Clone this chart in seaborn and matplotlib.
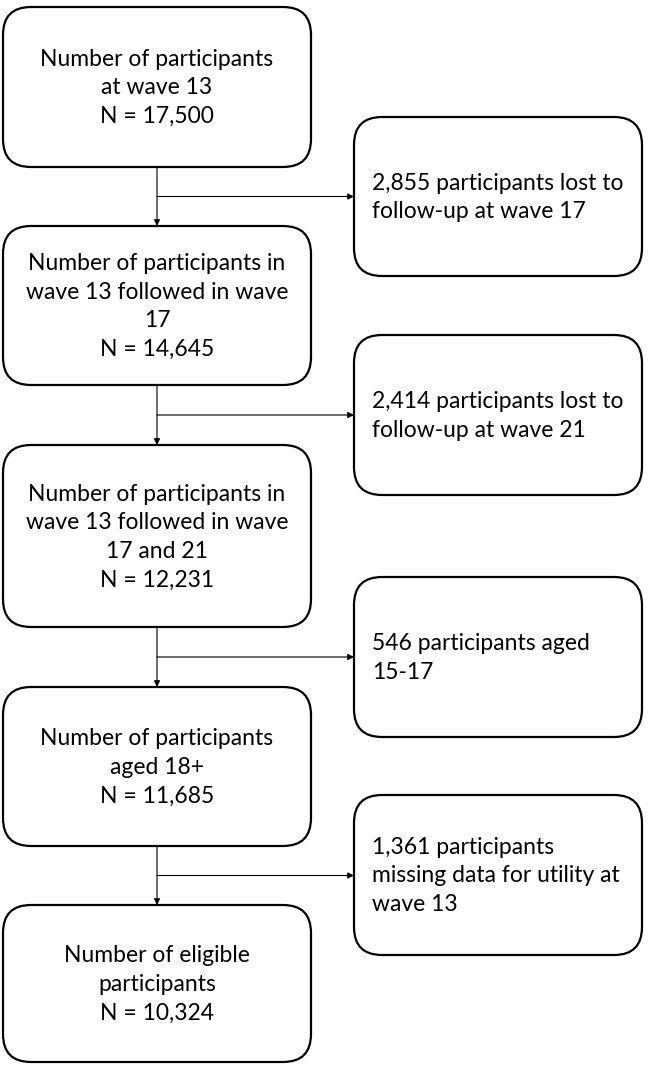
import matplotlib
matplotlib.use("Agg")
import matplotlib.pyplot as plt
from matplotlib.patches import FancyBboxPatch
import seaborn as sns

# flowchart content
main_steps = [
    "Number of participants\nat wave 13",
    "Number of participants in\nwave 13 followed in wave\n17",
    "Number of participants in\nwave 13 followed in wave\n17 and 21",
    "Number of participants\naged 18+",
    "Number of eligible\nparticipants",
]
main_counts = ["17,500", "14,645", "12,231", "11,685", "10,324"]
excluded = [
    "2,855 participants lost to\nfollow-up at wave 17",
    "2,414 participants lost to\nfollow-up at wave 21",
    "546 participants aged\n15-17",
    "1,361 participants\nmissing data for utility at\nwave 13",
]

# layout in pixels (top, bottom)
left_rows = [(7, 167), (226, 385), (445, 627), (687, 846), (905, 1062)]
right_rows = [(117, 276), (335, 495), (577, 737), (795, 955)]
left_x = (3, 311)
right_x = (354, 642)
stem_x = 157

sns.set_theme(style="white")
plt.rcParams['font.family'] = ['Lato', 'DejaVu Sans']

fig = plt.figure(figsize=(6.49, 10.70), dpi=100)
ax = fig.add_axes([0, 0, 1, 1])
ax.set_xlim(0, 649)
ax.set_ylim(1070, 0)
ax.axis("off")


def box(x0, x1, top, bottom):
    p = FancyBboxPatch((x0, top), x1 - x0, bottom - top,
                       boxstyle="round,pad=0,rounding_size=28",
                       fc="white", ec="black", lw=1.6)
    ax.add_patch(p)


fs = 16.5
for (top, bot), label, n in zip(left_rows, main_steps, main_counts):
    box(left_x[0], left_x[1], top, bot)
    ax.text(sum(left_x) / 2, (top + bot) / 2 + 1, f"{label}\nN = {n}",
            ha="center", va="center", fontsize=fs, linespacing=1.45,
            multialignment="center", color="black")

for (top, bot), label in zip(right_rows, excluded):
    box(right_x[0], right_x[1], top, bot)
    ax.text(right_x[0] + 18, (top + bot) / 2 + 1, label,
            ha="left", va="center", fontsize=fs, linespacing=1.45,
            color="black")

arrow = dict(arrowstyle="-|>", mutation_scale=9, lw=0.8, color="black",
             shrinkA=0, shrinkB=0)
for i in range(len(right_rows)):
    y_mid = (left_rows[i][1] + left_rows[i + 1][0]) / 2
    ax.annotate("", xy=(stem_x, left_rows[i + 1][0]), xytext=(stem_x, left_rows[i][1]),
                arrowprops=arrow)
    ax.annotate("", xy=(right_x[0], y_mid), xytext=(stem_x, y_mid),
                arrowprops=arrow)

fig.savefig("out.png", dpi=100, facecolor="white")
